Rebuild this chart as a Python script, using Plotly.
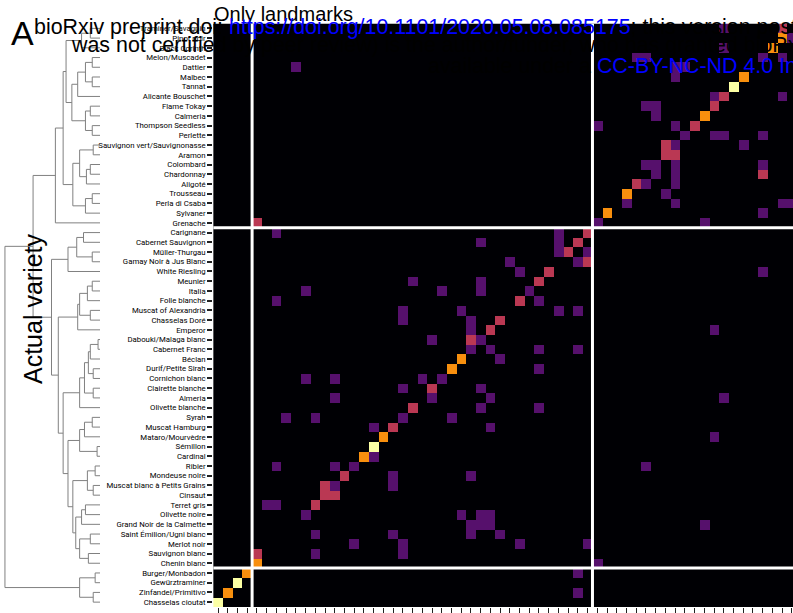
import plotly.graph_objects as go

W, H = 793, 613

# Row order (top to bottom) = actual variety; columns = predicted variety in reverse order
varieties = [
    "Traminer/Savagnin", "Pinot noir", "Black Corinth", "Melon/Muscadet", "Dattier", "Malbec",
    "Tannat", "Alicante Bouschet", "Flame Tokay", "Calmeria", "Thompson Seedless", "Perlette",
    "Sauvignon vert/Sauvignonasse", "Aramon", "Colombard", "Chardonnay", "Aligoté", "Trousseau",
    "Perla di Csaba", "Sylvaner", "Grenache",
    "Carignane", "Cabernet Sauvignon", "Müller-Thurgau", "Gamay Noir à Jus Blanc", "White Riesling",
    "Meunier", "Italia", "Folle blanche", "Muscat of Alexandria", "Chasselas Doré", "Emperor",
    "Dabouki/Malaga blanc", "Cabernet Franc", "Béclan", "Durif/Petite Sirah", "Cornichon blanc",
    "Clairette blanche", "Almeria", "Olivette blanche", "Syrah", "Muscat Hamburg", "Mataro/Mourvèdre",
    "Sémillon", "Cardinal", "Ribier", "Mondeuse noire", "Muscat blanc à Petits Grains", "Cinsaut",
    "Terret gris", "Olivette noire", "Grand Noir de la Calmette", "Saint Émilion/Ugni blanc",
    "Merlot noir", "Sauvignon blanc", "Chenin blanc",
    "Burger/Monbadon", "Gewürztraminer", "Zinfandel/Primitivo", "Chasselas cioutat",
]
group_sizes = [21, 35, 4]

# non-zero confusion counts: actual row index, predicted column index, count
cell_row = [0, 0, 1, 1, 2, 2, 3, 3, 3, 3, 4, 4, 4, 5, 5, 6, 7, 7, 7, 8, 8, 8, 9, 9,
            10, 10, 10, 11, 11, 11, 11, 12, 12, 12, 13, 13, 14, 14, 14, 14, 15, 15, 15,
            16, 16, 16, 17, 17, 18, 18, 18, 18, 19, 19, 20, 20, 20,
            21, 21, 21, 22, 22, 22, 23, 23, 23, 24, 24, 24, 25, 25, 25, 26, 26, 26,
            27, 27, 27, 27, 28, 28, 28, 29, 29, 29, 29, 30, 30, 30, 31, 31, 31,
            32, 32, 32, 33, 33, 33, 33, 34, 34, 35, 35, 36, 36, 36, 36, 37, 37, 37,
            38, 38, 38, 38, 39, 39, 39, 40, 40, 40, 40, 41, 41, 41, 42, 42, 43, 44, 44,
            45, 45, 45, 45, 46, 46, 46, 47, 47, 47, 48, 48, 49, 49, 49, 50, 50, 50, 50,
            51, 51, 51, 51, 52, 52, 52, 52, 53, 53, 53, 53, 54, 54, 54, 55, 55,
            56, 56, 57, 58, 58, 59]
cell_col = [52, 58, 58, 59, 57, 52, 56, 58, 43, 44, 8, 47, 48, 47, 54, 53, 51, 52, 58, 51, 44, 45, 45, 50,
            39, 47, 49, 48, 51, 52, 56, 46, 47, 54, 46, 47, 44, 45, 47, 56, 45, 47, 56,
            43, 44, 47, 42, 46, 42, 47, 58, 59, 40, 56, 4, 39, 50,
            6, 35, 38, 27, 35, 37, 35, 36, 38, 30, 37, 38, 31, 34, 56, 20, 27, 33,
            9, 23, 27, 32, 6, 31, 33, 19, 25, 35, 37, 19, 26, 29, 26, 28, 51,
            22, 26, 27, 26, 28, 33, 37, 25, 29, 24, 33, 9, 12, 21, 23, 19, 22, 27,
            12, 22, 28, 52, 20, 27, 33, 7, 10, 19, 24, 16, 18, 28, 17, 51, 16, 15, 16,
            6, 12, 14, 44, 13, 18, 26, 11, 12, 18, 11, 12, 5, 6, 10, 9, 25, 27, 28,
            26, 27, 28, 50, 10, 18, 26, 29, 14, 19, 31, 38, 4, 10, 19, 4, 39,
            3, 37, 2, 1, 37, 0]
cell_count = [1, 2, 3, 1, 3, 1, 1, 1, 1, 1, 1, 1, 1, 1, 3, 4, 1, 2, 1, 2, 1, 1, 1, 3,
              1, 1, 2, 1, 1, 1, 1, 2, 1, 1, 2, 2, 1, 1, 1, 1, 1, 1, 2,
              2, 1, 1, 3, 1, 1, 1, 1, 1, 3, 1, 2, 1, 1,
              1, 1, 2, 1, 1, 2, 1, 2, 1, 1, 1, 2, 1, 2, 1, 1, 1, 2,
              1, 1, 1, 1, 1, 2, 1, 1, 1, 1, 1, 1, 1, 2, 1, 2, 1,
              1, 2, 1, 1, 1, 1, 1, 3, 1, 3, 1, 1, 1, 1, 1, 1, 2, 1,
              1, 1, 1, 1, 2, 1, 1, 1, 1, 1, 1, 1, 2, 1, 3, 1, 4, 3, 1,
              1, 1, 1, 1, 2, 1, 1, 2, 1, 1, 2, 2, 1, 1, 2, 1, 1, 1, 1,
              1, 1, 1, 1, 1, 1, 1, 1, 1, 1, 1, 1, 2, 1, 1, 3, 1,
              3, 1, 4, 3, 1, 4]

# hierarchical clustering of varieties: (merge distance, left, right); leaves = row index
top_a = (0.19, (0.10, 0, 1), 2)
top_b = (0.29, (0.23, (0.15, (0.08, 3, 4), (0.08, 5, 6)), 7), (0.15, (0.10, 8, 9), (0.08, 10, 11)))
top_c = (0.28, (0.21, (0.07, 12, 13), (0.14, (0.10, 14, 15), 16)), (0.15, (0.08, 17, 18), 19))
top_tree = (0.46, (0.38, (0.35, top_a, top_b), top_c), 20)

mid_a = (0.33, (0.24, (0.17, 21, 22), (0.08, 23, 24)), 25)
mid_b = (0.23, (0.21, (0.13, (0.08, 26, 27), 28), (0.10, 29, 30)), 31)
mid_c = (0.21, (0.16, (0.12, (0.10, (0.02, 32, 33), 34), (0.07, 35, 36)), (0.07, 37, 38)), 39)
mid_d = (0.21, (0.16, (0.08, 40, 41), 42), (0.03, 43, 44))
mid_e = (0.28, (0.13, (0.05, 45, 46), (0.07, 47, 48)),
         (0.25, (0.19, (0.15, 49, 50), 51), (0.21, (0.10, 52, 53), (0.12, 54, 55))))
mid_tree = (0.50, mid_a, (0.43, mid_b, (0.38, mid_c, (0.33, mid_d, mid_e))))

bot_tree = (0.21, (0.05, 56, 57), (0.07, 58, 59))
cluster_tree = (0.98, (0.69, top_tree, mid_tree), bot_tree)

n = len(varieties)
z = [[0] * n for _ in range(n)]
for r, c, v in zip(cell_row, cell_col, cell_count):
    z[r][c] = v


def px(x):
    return x / W


def py(y):
    return 1 - y / H


fig = go.Figure()
fig.add_trace(go.Heatmap(
    z=z, x=list(range(n)), y=list(range(n)),
    colorscale="Inferno", zmin=0, zmax=4, showscale=False,
    xaxis="x", yaxis="y", hoverinfo="skip",
))

# dendrogram built from the tree
dx, dy = [], []


def walk(node):
    if isinstance(node, int):
        return float(node), 0.0
    h, a, b = node
    ya, ha = walk(a)
    yb, hb = walk(b)
    dx.extend([ha, h, h, hb, None])
    dy.extend([ya, ya, yb, yb, None])
    return (ya + yb) / 2, h


walk(cluster_tree)
fig.add_trace(go.Scatter(x=dx, y=dy, mode="lines", xaxis="x2", yaxis="y",
                         line=dict(color="#808080", width=1), hoverinfo="skip"))

# group separators
shapes = []
edges = []
acc = 0
for g in group_sizes[:-1]:
    acc += g
    edges.append(acc - 0.5)
for e in edges:
    shapes.append(dict(type="line", xref="x", yref="y", x0=-0.5, x1=n - 0.5, y0=e, y1=e,
                       line=dict(color="white", width=3)))
    shapes.append(dict(type="line", xref="x", yref="y", x0=n - 1 - e, x1=n - 1 - e,
                       y0=-0.5, y1=n - 0.5, line=dict(color="white", width=3)))

label_font = "Roboto, Liberation Sans, Arial, sans-serif"
fig.update_layout(
    width=W, height=H, margin=dict(l=0, r=0, t=0, b=0),
    paper_bgcolor="white", plot_bgcolor="white", showlegend=False,
    xaxis=dict(domain=[px(213.2), 1], range=[-0.5, 59.12], tickvals=list(range(n)),
               showticklabels=False, ticks="outside", ticklen=6, tickwidth=1, tickcolor="#222",
               showgrid=False, zeroline=False, anchor="y", automargin=False),
    yaxis=dict(domain=[py(607), py(23.5)], range=[n - 0.5, -0.5], tickvals=list(range(n)),
               ticktext=varieties, ticks="outside", ticklen=5, tickwidth=1.5, tickcolor="#222",
               tickfont=dict(family=label_font, size=7.8, color="black"),
               showgrid=False, zeroline=False, anchor="x", automargin=False),
    xaxis2=dict(domain=[px(3), px(100)], range=[1.0, 0.0], visible=False, anchor="y"),
    shapes=shapes,
)

ann = []
ann.append(dict(text="Only landmarks", x=px(212), y=py(14), xanchor="left", yanchor="middle",
                font=dict(family="Liberation Sans, Arial", size=20, color="black")))
ann.append(dict(text="Actual variety", x=px(33), y=py(309), textangle=-90,
                xanchor="center", yanchor="middle",
                font=dict(family="Liberation Sans, Arial", size=25, color="black")))
ann.append(dict(text="A", x=px(22), y=py(33), xanchor="center", yanchor="middle",
                font=dict(family="Liberation Sans, Arial", size=34, color="black")))
wm_font = dict(family="Liberation Sans, Arial", size=21.4, color="black")
ann.append(dict(text="bioRxiv preprint doi: <span style='color:#0000ff'>https://doi.org/10.1101/2020.05.08.085175</span>; "
                     "this version posted May 10, 2020. The copyright holder for this preprint (which",
                x=px(32), y=py(27), xanchor="left", yanchor="middle", font=wm_font))
ann.append(dict(text="was not certified by peer review) is the author/funder, who has granted bioRxiv a license "
                     "to display the preprint in perpetuity. It is made",
                x=px(69), y=py(45), xanchor="left", yanchor="middle", font=wm_font))
ann.append(dict(text="available under a <span style='color:#0000ff'>CC-BY-NC-ND 4.0 International license</span>.",
                x=px(426), y=py(66), xanchor="left", yanchor="middle", font=wm_font))
for a in ann:
    a.update(xref="paper", yref="paper", showarrow=False)
fig.update_layout(annotations=ann)

fig.write_html("out.html", config={"displayModeBar": False},
               post_script="document.body.style.margin='0px';document.body.style.overflow='hidden';")
